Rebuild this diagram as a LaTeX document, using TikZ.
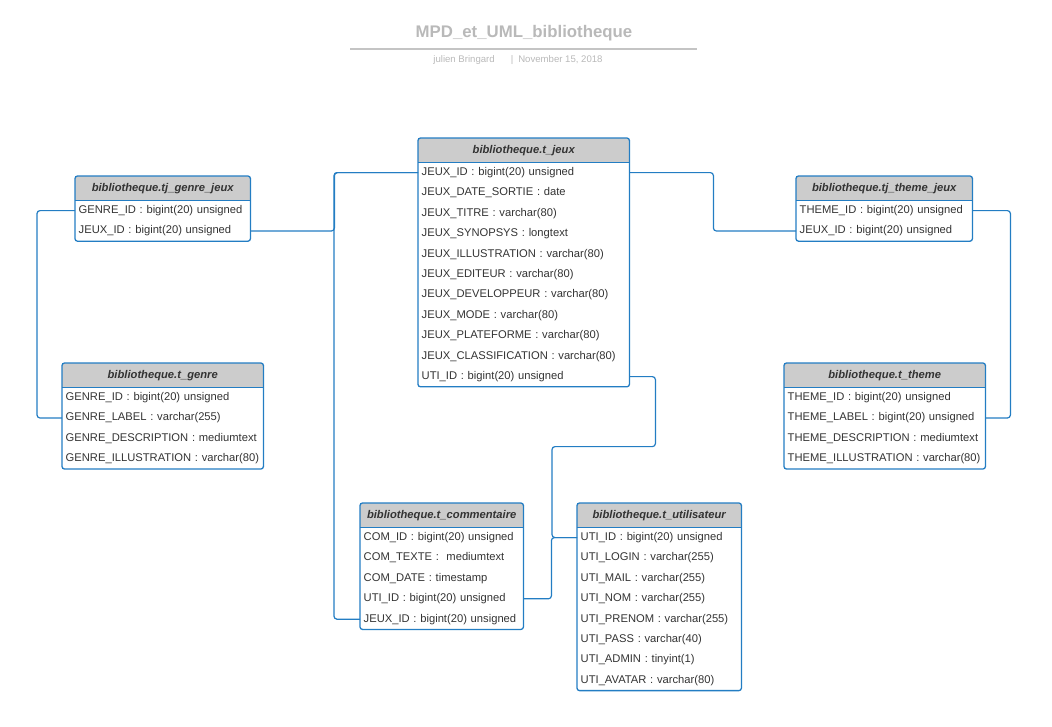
\documentclass[tikz,border=0pt]{standalone}
\usepackage{fontspec}
\setmainfont{Liberation Sans}
\usepackage{tikz}
\usetikzlibrary{
	positioning,
	fit
}
\definecolor{TblBlue}{RGB}{35,125,195}
\definecolor{HdrGray}{RGB}{204,204,204}
\definecolor{TxtGray}{RGB}{51,51,51}
\definecolor{TitleGray}{RGB}{185,185,185}

\tikzset{
	hdr/.style={
		fill=HdrGray,
		inner sep=0pt,
		minimum height=24pt,
		text height=8.2pt,
		text depth=2.4pt,
		font=\fontsize{11.2}{13}\selectfont\bfseries\itshape,
		text=TxtGray
	},
	row/.style={
		inner xsep=3.5pt,
		inner ysep=0pt,
		minimum height=20pt,
		text height=8.2pt,
		text depth=2.4pt,
		text width=#1,
		align=left,
		font=\fontsize{11.2}{13}\selectfont,
		text=TxtGray
	},
	frame/.style={
		draw=TblBlue,
		line width=1.3pt,
		rounded corners=2.5pt,
		inner sep=0pt
	},
	sepline/.style={
		draw=TblBlue,
		line width=1.1pt
	},
	link/.style={
		draw=TblBlue,
		line width=1.2pt,
		rounded corners=3pt
	}
}

\begin{document}
\begin{tikzpicture}[x=1pt,y=-1pt]
				
				\useasboundingbox (0,0) rectangle (1052,726);
				
				% title block
				\node[
				font=\fontsize{16.8}{19}\selectfont\bfseries,
				text=TitleGray
				]
				(title) at (524,33)
				{MPD\_et\_UML\_bibliotheque};
				
				\draw[TitleGray!85, line width=1.2pt] (350,49) -- (697,49);
				
				\node[
				font=\fontsize{9.6}{11}\selectfont,
				text=TitleGray
				]
				(author) at (518,60)
				{julien Bringard\hspace{16pt}|\hspace{5pt}November 15, 2018};
				
				% t_jeux
				\node[hdr, minimum width=211pt, anchor=north west] (jeuxH) at (418,138) {bibliotheque.t\_jeux};
				\node[row=204pt, below=0pt of jeuxH] (jeux1) {JEUX\_ID : bigint(20) unsigned};
				\node[row=204pt, below=0pt of jeux1] (jeux2) {JEUX\_DATE\_SORTIE : date};
				\node[row=204pt, below=0pt of jeux2] (jeux3) {JEUX\_TITRE : varchar(80)};
				\node[row=204pt, below=0pt of jeux3] (jeux4) {JEUX\_SYNOPSYS : longtext};
				\node[row=204pt, below=0pt of jeux4] (jeux5) {JEUX\_ILLUSTRATION : varchar(80)};
				\node[row=204pt, below=0pt of jeux5] (jeux6) {JEUX\_EDITEUR : varchar(80)};
				\node[row=204pt, below=0pt of jeux6] (jeux7) {JEUX\_DEVELOPPEUR : varchar(80)};
				\node[row=204pt, below=0pt of jeux7] (jeux8) {JEUX\_MODE : varchar(80)};
				\node[row=204pt, below=0pt of jeux8] (jeux9) {JEUX\_PLATEFORME : varchar(80)};
				\node[row=204pt, below=0pt of jeux9] (jeux10) {JEUX\_CLASSIFICATION : varchar(80)};
				\node[row=204pt, below=0pt of jeux10] (jeux11) {UTI\_ID : bigint(20) unsigned};
				\draw[sepline] (jeuxH.south west) -- (jeuxH.south east);
				\node[frame, fit=(jeuxH)(jeux11)] (jeux) {};
				
				% tj_genre_jeux
				\node[hdr, minimum width=175pt, anchor=north west] (gjH) at (75,176) {bibliotheque.tj\_genre\_jeux};
				\node[row=168pt, below=0pt of gjH] (gj1) {GENRE\_ID : bigint(20) unsigned};
				\node[row=168pt, below=0pt of gj1] (gj2) {JEUX\_ID : bigint(20) unsigned};
				\draw[sepline] (gjH.south west) -- (gjH.south east);
				\node[frame, fit=(gjH)(gj2)] (genrejeux) {};
				
				% t_genre
				\node[hdr, minimum width=201pt, anchor=north west] (genreH) at (62,363) {bibliotheque.t\_genre};
				\node[row=194pt, below=0pt of genreH] (genre1) {GENRE\_ID : bigint(20) unsigned};
				\node[row=194pt, below=0pt of genre1] (genre2) {GENRE\_LABEL : varchar(255)};
				\node[row=194pt, below=0pt of genre2] (genre3) {GENRE\_DESCRIPTION : mediumtext};
				\node[row=194pt, below=0pt of genre3] (genre4) {GENRE\_ILLUSTRATION : varchar(80)};
				\draw[sepline] (genreH.south west) -- (genreH.south east);
				\node[frame, fit=(genreH)(genre4)] (genre) {};
				
				% tj_theme_jeux
				\node[hdr, minimum width=176pt, anchor=north west] (tjH) at (796,176) {bibliotheque.tj\_theme\_jeux};
				\node[row=169pt, below=0pt of tjH] (tj1) {THEME\_ID : bigint(20) unsigned};
				\node[row=169pt, below=0pt of tj1] (tj2) {JEUX\_ID : bigint(20) unsigned};
				\draw[sepline] (tjH.south west) -- (tjH.south east);
				\node[frame, fit=(tjH)(tj2)] (themejeux) {};
				
				% t_theme
				\node[hdr, minimum width=201pt, anchor=north west] (themeH) at (784,363) {bibliotheque.t\_theme};
				\node[row=194pt, below=0pt of themeH] (theme1) {THEME\_ID : bigint(20) unsigned};
				\node[row=194pt, below=0pt of theme1] (theme2) {THEME\_LABEL : bigint(20) unsigned};
				\node[row=194pt, below=0pt of theme2] (theme3) {THEME\_DESCRIPTION : mediumtext};
				\node[row=194pt, below=0pt of theme3] (theme4) {THEME\_ILLUSTRATION : varchar(80)};
				\draw[sepline] (themeH.south west) -- (themeH.south east);
				\node[frame, fit=(themeH)(theme4)] (theme) {};
				
				% t_commentaire
				\node[hdr, minimum width=163pt, anchor=north west] (comH) at (360,503) {bibliotheque.t\_commentaire};
				\node[row=156pt, below=0pt of comH] (com1) {COM\_ID : bigint(20) unsigned};
				\node[row=156pt, below=0pt of com1] (com2) {COM\_TEXTE :\ \ mediumtext};
				\node[row=156pt, below=0pt of com2] (com3) {COM\_DATE : timestamp};
				\node[row=156pt, below=0pt of com3] (com4) {UTI\_ID : bigint(20) unsigned};
				\node[row=156pt, below=0pt of com4] (com5) {JEUX\_ID : bigint(20) unsigned};
				\draw[sepline] (comH.south west) -- (comH.south east);
				\node[frame, fit=(comH)(com5)] (commentaire) {};
				
				% t_utilisateur
				\node[hdr, minimum width=164pt, anchor=north west] (utiH) at (577,503) {bibliotheque.t\_utilisateur};
				\node[row=157pt, below=0pt of utiH] (uti1) {UTI\_ID : bigint(20) unsigned};
				\node[row=157pt, below=0pt of uti1] (uti2) {UTI\_LOGIN : varchar(255)};
				\node[row=157pt, below=0pt of uti2] (uti3) {UTI\_MAIL : varchar(255)};
				\node[row=157pt, below=0pt of uti3] (uti4) {UTI\_NOM : varchar(255)};
				\node[row=157pt, below=0pt of uti4] (uti5) {UTI\_PRENOM : varchar(255)};
				\node[row=157pt, below=0pt of uti5] (uti6) {UTI\_PASS : varchar(40)};
				\node[row=157pt, below=0pt of uti6] (uti7) {UTI\_ADMIN : tinyint(1)};
				\node[row=157pt, below=0pt of uti7] (uti8) {UTI\_AVATAR : varchar(80)};
				\draw[sepline] (utiH.south west) -- (utiH.south east);
				\node[frame, fit=(utiH)(uti8)] (utilisateur) {};
				
				% links
				\draw[link] (gj1.west) -- ++(-38,0) |- (genre2.west);
				\draw[link] (gj2.east) -- ++(84,0) |- (jeux1.west);
				\draw[link] (jeux1.west) -- ++(-84,0) |- (com5.west);
				\draw[link] (jeux1.east) -- ++(84,0) |- (tj2.west);
				\draw[link] (tj1.east) -- ++(38,0) |- (theme2.east);
				\draw[link] (jeux11.east) -- ++(26,0) -- ++(0,70) -| ([xshift=-25pt]uti1.west) -- (uti1.west);
				\draw[link] (com4.east) -- ++(28,0) |- (uti1.west);
				
			\end{tikzpicture}
\end{document}
